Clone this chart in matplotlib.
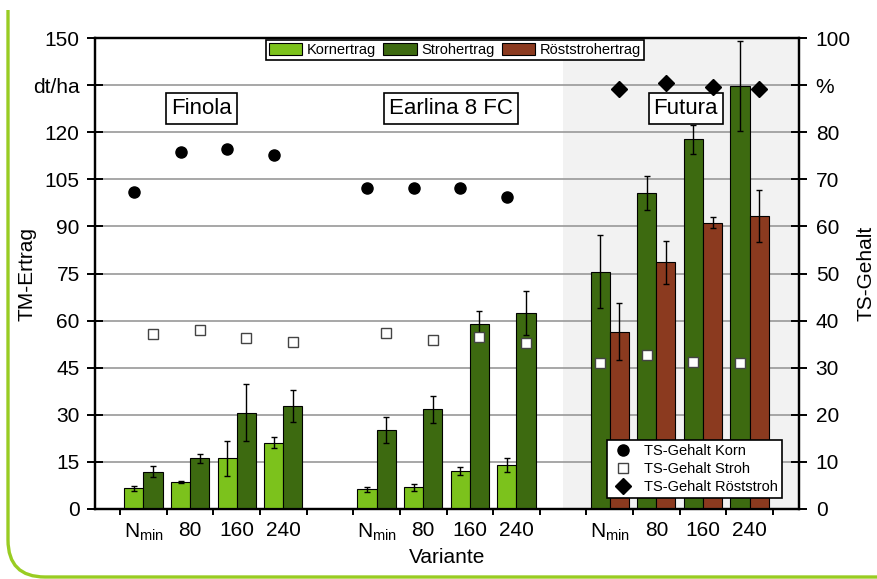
import matplotlib
matplotlib.use("Agg")
import matplotlib.pyplot as plt
import numpy as np
from matplotlib.patches import Patch
from matplotlib.lines import Line2D
from matplotlib.path import Path
from matplotlib.patches import PathPatch

plt.rcParams['font.family'] = ['Liberation Sans', 'DejaVu Sans']
plt.rcParams['mathtext.fontset'] = 'custom'
plt.rcParams['mathtext.rm'] = 'Liberation Sans'
plt.rcParams['mathtext.it'] = 'Liberation Sans'

# ---------------- data ----------------
varieties = ["Finola", "Earlina 8 FC", "Futura"]
variants = [r"N$_{\mathrm{min}}$", "80", "160", "240"]

korn_finola = [6.6, 8.5, 16.1, 21.1]
korn_finola_err = [0.8, 0.3, 5.5, 1.8]
korn_earlina = [6.3, 6.9, 12.2, 14.0]
korn_earlina_err = [0.8, 1.2, 1.3, 2.3]

stroh_finola = [11.9, 16.1, 30.7, 32.8]
stroh_finola_err = [1.7, 1.3, 9.0, 5.2]
stroh_earlina = [25.2, 31.7, 58.9, 62.5]
stroh_earlina_err = [4.1, 4.3, 4.1, 7.0]
stroh_futura = [75.6, 100.5, 117.7, 134.8]
stroh_futura_err = [11.7, 5.4, 4.5, 14.3]

roest_futura = [56.5, 78.6, 91.2, 93.3]
roest_futura_err = [9.0, 6.9, 1.7, 8.4]

ts_korn_finola = [67.4, 75.9, 76.4, 75.1]
ts_korn_earlina = [68.2, 68.2, 68.1, 66.3]
ts_stroh_finola = [37.1, 38.0, 36.4, 35.4]
ts_stroh_earlina = [37.4, 35.9, 36.6, 35.2]
ts_stroh_futura = [31.1, 32.7, 31.3, 31.1]
ts_roest_futura = [89.1, 90.4, 89.5, 89.1]

left_ticks = [0, 15, 30, 45, 60, 75, 90, 105, 120, 135, 150]
left_ticklabels = ["0", "15", "30", "45", "60", "75", "90", "105", "120", "dt/ha", "150"]
right_ticks = [0, 10, 20, 30, 40, 50, 60, 70, 80, 90, 100]
right_ticklabels = ["0", "10", "20", "30", "40", "50", "60", "70", "80", "%", "100"]

# ---------------- style ----------------
c_korn = "#7cc21c"
c_stroh = "#3d6a10"
c_roest = "#8b3a1f"
c_shade = "#f2f2f2"
c_grid = "#a0a0a0"
c_border = "#99cc22"

fs_tick = 15
fs_leg = 10.5

fig = plt.figure(figsize=(8.77, 5.79), dpi=100)
ax = fig.add_axes([95/877, 1-509/579, (799-95)/877, (509-38)/579])
ax2 = ax.twinx()

pos_f = np.array([1, 2, 3, 4])
pos_e = np.array([6, 7, 8, 9])
pos_u = np.array([11, 12, 13, 14])
w = 0.41
off = w/2

ax.set_xlim(-0.04, 15.06)
ax.set_ylim(0, 150)
ax2.set_ylim(0, 100)

ax.axvspan(10, 15.06, color=c_shade, zorder=0, lw=0)
for t in left_ticks[1:-1]:
    ax.axhline(t, color=c_grid, lw=1.3, zorder=1)

ekw = dict(ecolor="black", elinewidth=1.0, capsize=2.5, capthick=1.0)
bkw = dict(edgecolor="black", linewidth=0.8, zorder=3)

ax.bar(pos_f - off, korn_finola, w, yerr=korn_finola_err, color=c_korn, error_kw=ekw, **bkw)
ax.bar(pos_e - off, korn_earlina, w, yerr=korn_earlina_err, color=c_korn, error_kw=ekw, **bkw)
ax.bar(pos_f + off, stroh_finola, w, yerr=stroh_finola_err, color=c_stroh, error_kw=ekw, **bkw)
ax.bar(pos_e + off, stroh_earlina, w, yerr=stroh_earlina_err, color=c_stroh, error_kw=ekw, **bkw)
ax.bar(pos_u - off, stroh_futura, w, yerr=stroh_futura_err, color=c_stroh, error_kw=ekw, **bkw)
ax.bar(pos_u + off, roest_futura, w, yerr=roest_futura_err, color=c_roest, error_kw=ekw, **bkw)

# markers on right axis
ax2.plot(pos_f - off, ts_korn_finola, 'o', color='black', ms=8, ls='none', zorder=5)
ax2.plot(pos_e - off, ts_korn_earlina, 'o', color='black', ms=8, ls='none', zorder=5)
sq = dict(marker='s', mfc='white', mec='#444444', mew=1.0, ms=7.5, ls='none', zorder=5)
ax2.plot(pos_f + off, ts_stroh_finola, **sq)
ax2.plot(pos_e + off, ts_stroh_earlina, **sq)
ax2.plot(pos_u - off, ts_stroh_futura, **sq)
ax2.plot(pos_u + off, ts_roest_futura, 'D', color='black', ms=8, ls='none', zorder=5)

# spines
for a in (ax, ax2):
    for s in a.spines.values():
        s.set_color('black')
        s.set_linewidth(1.6)

ax.set_yticks(left_ticks)
ax.set_yticklabels(left_ticklabels, fontsize=fs_tick)
ax.tick_params(axis='y', direction='inout', length=12, width=1.4, pad=5)
ax2.set_yticks(right_ticks)
ax2.set_yticklabels(right_ticklabels, fontsize=fs_tick)
ax2.tick_params(axis='y', direction='inout', length=12, width=1.4, pad=6)

# x ticks: boundaries (major), labels at centers (minor)
ax.set_xticks(np.arange(0.5, 15.0, 1.0))
ax.set_xticklabels([])
ax.tick_params(axis='x', which='major', direction='out', length=4, width=1.4)
centers = np.concatenate([pos_f, pos_e, pos_u])
ax.set_xticks(centers, minor=True)
ax.set_xticklabels(variants * 3, minor=True, fontsize=fs_tick)
ax.tick_params(axis='x', which='minor', length=0, pad=9)

fig.text(27/877, (1-509/579 + 1-38/579)/2, "TM-Ertrag", rotation=90, fontsize=fs_tick,
         ha='center', va='center')
ax.set_xlabel("Variante", fontsize=fs_tick, labelpad=4)
fig.text(0.988, 0.527, "TS-Gehalt", rotation=90, fontsize=fs_tick, ha='center', va='center')

# variety boxes
bbox = dict(boxstyle='square,pad=0.22', fc='white', ec='black', lw=1.2)
ax.text(2.24, 127.5, varieties[0], fontsize=16, ha='center', va='center', bbox=bbox, zorder=10)
ax.text(7.59, 127.5, varieties[1], fontsize=16, ha='center', va='center', bbox=bbox, zorder=10)
ax.text(12.63, 127.5, varieties[2], fontsize=16, ha='center', va='center', bbox=bbox, zorder=10)

# legends
h1 = [Patch(fc=c_korn, ec='black', lw=0.8), Patch(fc=c_stroh, ec='black', lw=0.8),
      Patch(fc=c_roest, ec='black', lw=0.8)]
leg1 = ax2.legend(h1, ["Kornertrag", "Strohertrag", "Röststrohertrag"], ncol=3,
                  loc='upper center', bbox_to_anchor=(455/877, 1-40/579),
                  bbox_transform=fig.transFigure, fontsize=fs_leg, frameon=True,
                  fancybox=False, edgecolor='black', framealpha=1, borderpad=0.2,
                  handlelength=2.3, handleheight=0.85, handletextpad=0.35,
                  columnspacing=0.45, borderaxespad=0)
leg1.get_frame().set_linewidth(1.2)
ax2.add_artist(leg1)

h2 = [Line2D([], [], marker='o', color='black', ls='none', ms=8),
      Line2D([], [], marker='s', mfc='white', mec='#444444', mew=1.0, ms=7.5, ls='none'),
      Line2D([], [], marker='D', color='black', ls='none', ms=8)]
leg2 = ax2.legend(h2, ["TS-Gehalt Korn", "TS-Gehalt Stroh", "TS-Gehalt Röststroh"],
                  loc='lower right', bbox_to_anchor=(782/877, 1-498/579),
                  bbox_transform=fig.transFigure, fontsize=fs_leg, frameon=True,
                  fancybox=False, edgecolor='black', framealpha=1, borderpad=0.3,
                  handlelength=1.6, handletextpad=0.6, labelspacing=0.25, borderaxespad=0)
leg2.get_frame().set_linewidth(1.2)
leg2.set_zorder(20)

# decorative green border (left + bottom with rounded corner)
W, H = 877.0, 579.0
verts = [(8/W, 1-10/H), (8/W, 1-540/H), (8/W, 1-577/H), (45/W, 1-577/H), (1.0, 1-577/H)]
codes = [Path.MOVETO, Path.LINETO, Path.CURVE3, Path.CURVE3, Path.LINETO]
fig.patches.append(PathPatch(Path(verts, codes), transform=fig.transFigure, fill=False,
                             ec=c_border, lw=2.4))

fig.savefig("out.png", dpi=100)
